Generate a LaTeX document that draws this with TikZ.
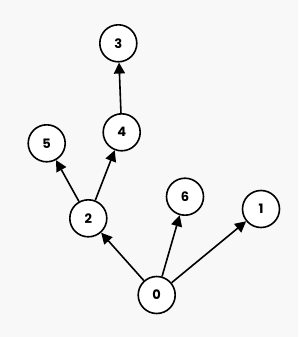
\documentclass[tikz,border=0pt]{standalone}
\usepackage{fontspec}
\setmainfont{Poppins}
\usetikzlibrary{arrows.meta}
\definecolor{bg}{RGB}{248,248,248}
\tikzset{
  vert/.style={circle,draw=black,fill=white,line width=1.6pt,minimum size=37pt,inner sep=0pt,font=\bfseries\fontsize{13}{13}\selectfont},
  arr/.style={line width=1.6pt,-{Triangle[length=11pt,width=11pt]}}
}
\begin{document}
\begin{tikzpicture}[x=1pt,y=-1pt]
\fill[bg] (0,0) rectangle (298,337);
\useasboundingbox (0,0) rectangle (298,337);
\node[vert] (n3) at (118.3,43.3) {3};
\node[vert] (n4) at (121.7,132.3) {4};
\node[vert] (n5) at (46.7,143.3) {5};
\node[vert] (n2) at (88.3,218.3) {2};
\node[vert] (n6) at (185,196.7) {6};
\node[vert] (n1) at (261,209) {1};
\node[vert] (n0) at (156.7,295) {0};
\draw[arr] (n0) -- (n2);
\draw[arr] (n0) -- (n6);
\draw[arr] (n0) -- (n1);
\draw[arr] (n2) -- (n5);
\draw[arr] (n2) -- (n4);
\draw[arr] (n4) -- (n3);
\end{tikzpicture}
\end{document}
